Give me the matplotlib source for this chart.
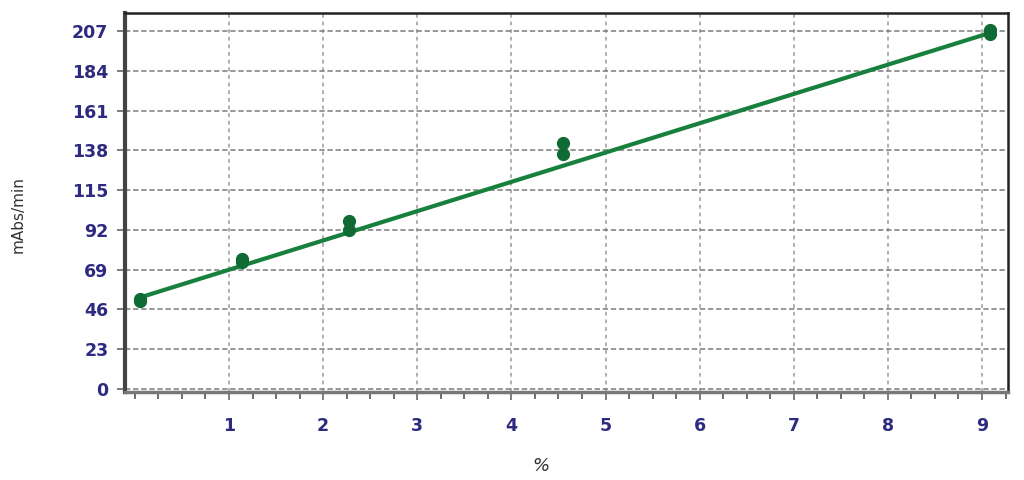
import matplotlib
matplotlib.use("Agg")
import matplotlib.pyplot as plt
from matplotlib.ticker import MultipleLocator

# data
conc = [0.057, 0.057, 1.14, 1.14, 2.27, 2.27, 4.55, 4.55, 9.09, 9.09]
rate = [51.0, 52.0, 73.5, 75.0, 92.0, 97.0, 136.0, 142.0, 205.0, 207.5]
fit_x = [0.057, 9.09]
fit_y = [53.0, 206.0]
x_ticks = [1, 2, 3, 4, 5, 6, 7, 8, 9]
y_ticks = [0, 23, 46, 69, 92, 115, 138, 161, 184, 207]

green = "#17803d"
mark_green = "#0f6b33"
tick_col = "#2e2a80"

fig = plt.figure(figsize=(10.24, 4.8), dpi=100)
ax = fig.add_axes([125/1024, 1-392/480, (1008-125)/1024, (392-13)/480])

ax.plot(fit_x, fit_y, color=green, lw=3, zorder=3)
ax.plot(conc, rate, 'o', color=mark_green, ms=8.5, zorder=4)

ax.set_xlim(-0.105, 9.276)
ax.set_ylim(-1.7, 217.4)
ax.set_xticks(x_ticks)
ax.set_yticks(y_ticks)
ax.xaxis.set_minor_locator(MultipleLocator(0.25))

ax.grid(True, axis='y', color='#7a7a7a', lw=1.1, ls=(0, (3.5, 1.8)))
ax.grid(True, axis='x', color='#9a9a9a', lw=1.1, ls=(0, (2.5, 2.5)))
ax.set_axisbelow(True)

for lab in ax.get_xticklabels() + ax.get_yticklabels():
    lab.set_fontweight('bold')
    lab.set_color(tick_col)
    lab.set_fontsize(12.5)

ax.tick_params(axis='x', which='major', length=6, width=1.2, color='#666666', pad=12, direction='out')
ax.tick_params(axis='x', which='minor', length=5, width=1.2, color='#555555', direction='out')
ax.tick_params(axis='y', which='major', length=6, width=1.2, color='#666666', pad=6, direction='out')

ax.spines['left'].set_linewidth(3)
ax.spines['left'].set_color('#444444')
ax.spines['bottom'].set_linewidth(2.5)
ax.spines['bottom'].set_color('#777777')
ax.spines['top'].set_linewidth(1.8)
ax.spines['top'].set_color('#222222')
ax.spines['right'].set_linewidth(1.8)
ax.spines['right'].set_color('#222222')

fig.text(18/1024, 1-215/480, "mAbs/min", rotation=90, ha='center', va='center',
         fontsize=11, color='#333333')
fig.text(541/1024, 1-466/480, "%", ha='center', va='center', fontsize=13,
         color='#333333', style='italic')

fig.savefig("out.png", dpi=100)
